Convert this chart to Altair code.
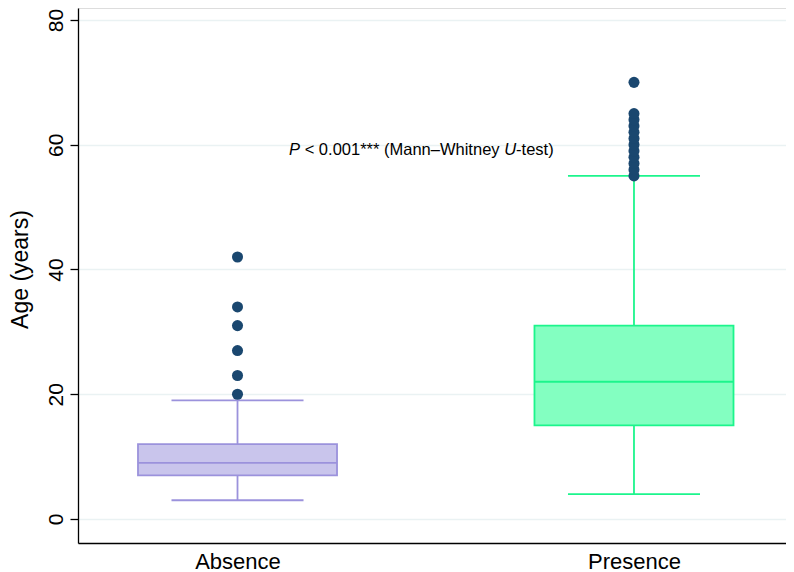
import altair as alt
import pandas as pd

# ---- data ----
groups = ["Absence", "Presence"]
q1 = [7, 15]
median = [9, 22]
q3 = [12, 31]
whisker_low = [3, 4]
whisker_high = [19, 55]
outliers_absence = [20, 23, 27, 31, 34, 42]
outliers_presence = [55, 56, 57, 58, 59, 60, 61, 62, 63, 64, 65, 70]
y_ticks = [0, 20, 40, 60, 80]
annotation_y = 59.2

# ---- styling ----
BOX_HALF = 0.251
CAP_HALF = 0.1665
stroke_colors = ["#9b92dc", "#1cf58c"]
fill_colors = ["#c9c5ec", "#83ffc1"]
dot_color = "#1a476f"
grid_color = "#eaf2f3"
FONT = "Liberation Sans"

box = pd.DataFrame({
    "group": groups,
    "pos": list(range(len(groups))),
    "q1": q1, "median": median, "q3": q3,
    "lo": whisker_low, "hi": whisker_high,
})
box["left"] = box["pos"] - BOX_HALF
box["right"] = box["pos"] + BOX_HALF
box["cl"] = box["pos"] - CAP_HALF
box["cr"] = box["pos"] + CAP_HALF

out = pd.DataFrame({
    "group": ["Absence"] * len(outliers_absence) + ["Presence"] * len(outliers_presence),
    "value": outliers_absence + outliers_presence,
})
out["pos"] = out["group"].map({g: i for i, g in enumerate(groups)})

xscale = alt.Scale(domain=[-0.4023, 1.3834], nice=False, zero=False)
yscale = alt.Scale(domain=[-3.85, 81.92], nice=False, zero=False)

xaxis = alt.Axis(values=[0, 1],
                 labelExpr="datum.value == 0 ? 'Absence' : 'Presence'",
                 ticks=False, grid=False, domainColor="black", domainWidth=1.3,
                 labelFontSize=22, labelColor="black", labelPadding=8,
                 labelFont=FONT, title=None, labelFlush=False)
yaxis = alt.Axis(values=y_ticks, grid=True, gridColor=grid_color, gridWidth=1.5,
                 tickColor="black", tickSize=8, tickWidth=1.3,
                 domainColor="black", domainWidth=1.3,
                 labelAngle=270, labelAlign="center", labelBaseline="bottom",
                 labelFontSize=21, labelColor="black", labelPadding=4, labelFont=FONT,
                 title="Age (years)", titleFontSize=23, titleFont=FONT,
                 titleFontWeight="normal", titleColor="black",
                 titleAngle=270, titleAlign="center", titleBaseline="top",
                 titleX=-69, titleY=261)


def X(field):
    return alt.X(f"{field}:Q", scale=xscale, axis=xaxis, title=None)


def Y(field):
    return alt.Y(f"{field}:Q", scale=yscale, axis=yaxis, title="Age (years)")


stroke = alt.Stroke("group:N", scale=alt.Scale(domain=groups, range=stroke_colors), legend=None)
fill = alt.Fill("group:N", scale=alt.Scale(domain=groups, range=fill_colors), legend=None)

base = alt.Chart(box)

whisker = base.mark_rule(strokeWidth=1.8).encode(
    x=X("pos"), y=Y("lo"), y2="hi", stroke=stroke)
cap_lo = base.mark_rule(strokeWidth=1.8).encode(
    x=X("cl"), x2="cr", y=Y("lo"), stroke=stroke)
cap_hi = base.mark_rule(strokeWidth=1.8).encode(
    x=X("cl"), x2="cr", y=Y("hi"), stroke=stroke)
rect = base.mark_rect(strokeWidth=1.8, opacity=1).encode(
    x=X("left"), x2="right", y=Y("q1"), y2="q3", fill=fill, stroke=stroke)
med = base.mark_rule(strokeWidth=1.8).encode(
    x=X("left"), x2="right", y=Y("median"), stroke=stroke)

dots = alt.Chart(out).mark_circle(size=122, opacity=1, color=dot_color).encode(
    x=X("pos"), y=Y("value"))

# annotation pieces (italic P and U)
ann_x = 0.130
pieces = [
    ("P", "italic", 0),
    ("< 0.001*** (Mann\u2013Whitney", "normal", 15.6),
    ("U", "italic", 215.1),
    ("-test)", "normal", 227.0),
]
text_layers = []
for txt, style, dx in pieces:
    t = alt.Chart(pd.DataFrame({"x": [ann_x], "y": [annotation_y], "t": [txt]})).mark_text(
        align="left", baseline="middle", fontSize=16.5, font=FONT, fontStyle=style,
        color="black", dx=dx
    ).encode(x=X("x"), y=Y("y"), text="t:N")
    text_layers.append(t)

chart = alt.layer(whisker, cap_lo, cap_hi, rect, med, dots, *text_layers).properties(
    width=708, height=535,
    autosize=alt.AutoSizeParams(type="none"),
    padding={"left": 70, "top": 0, "right": 0, "bottom": 29},
).configure_view(stroke=None).configure(background="white")

chart.save("out.html", embed_options={"renderer": "svg", "actions": False})
